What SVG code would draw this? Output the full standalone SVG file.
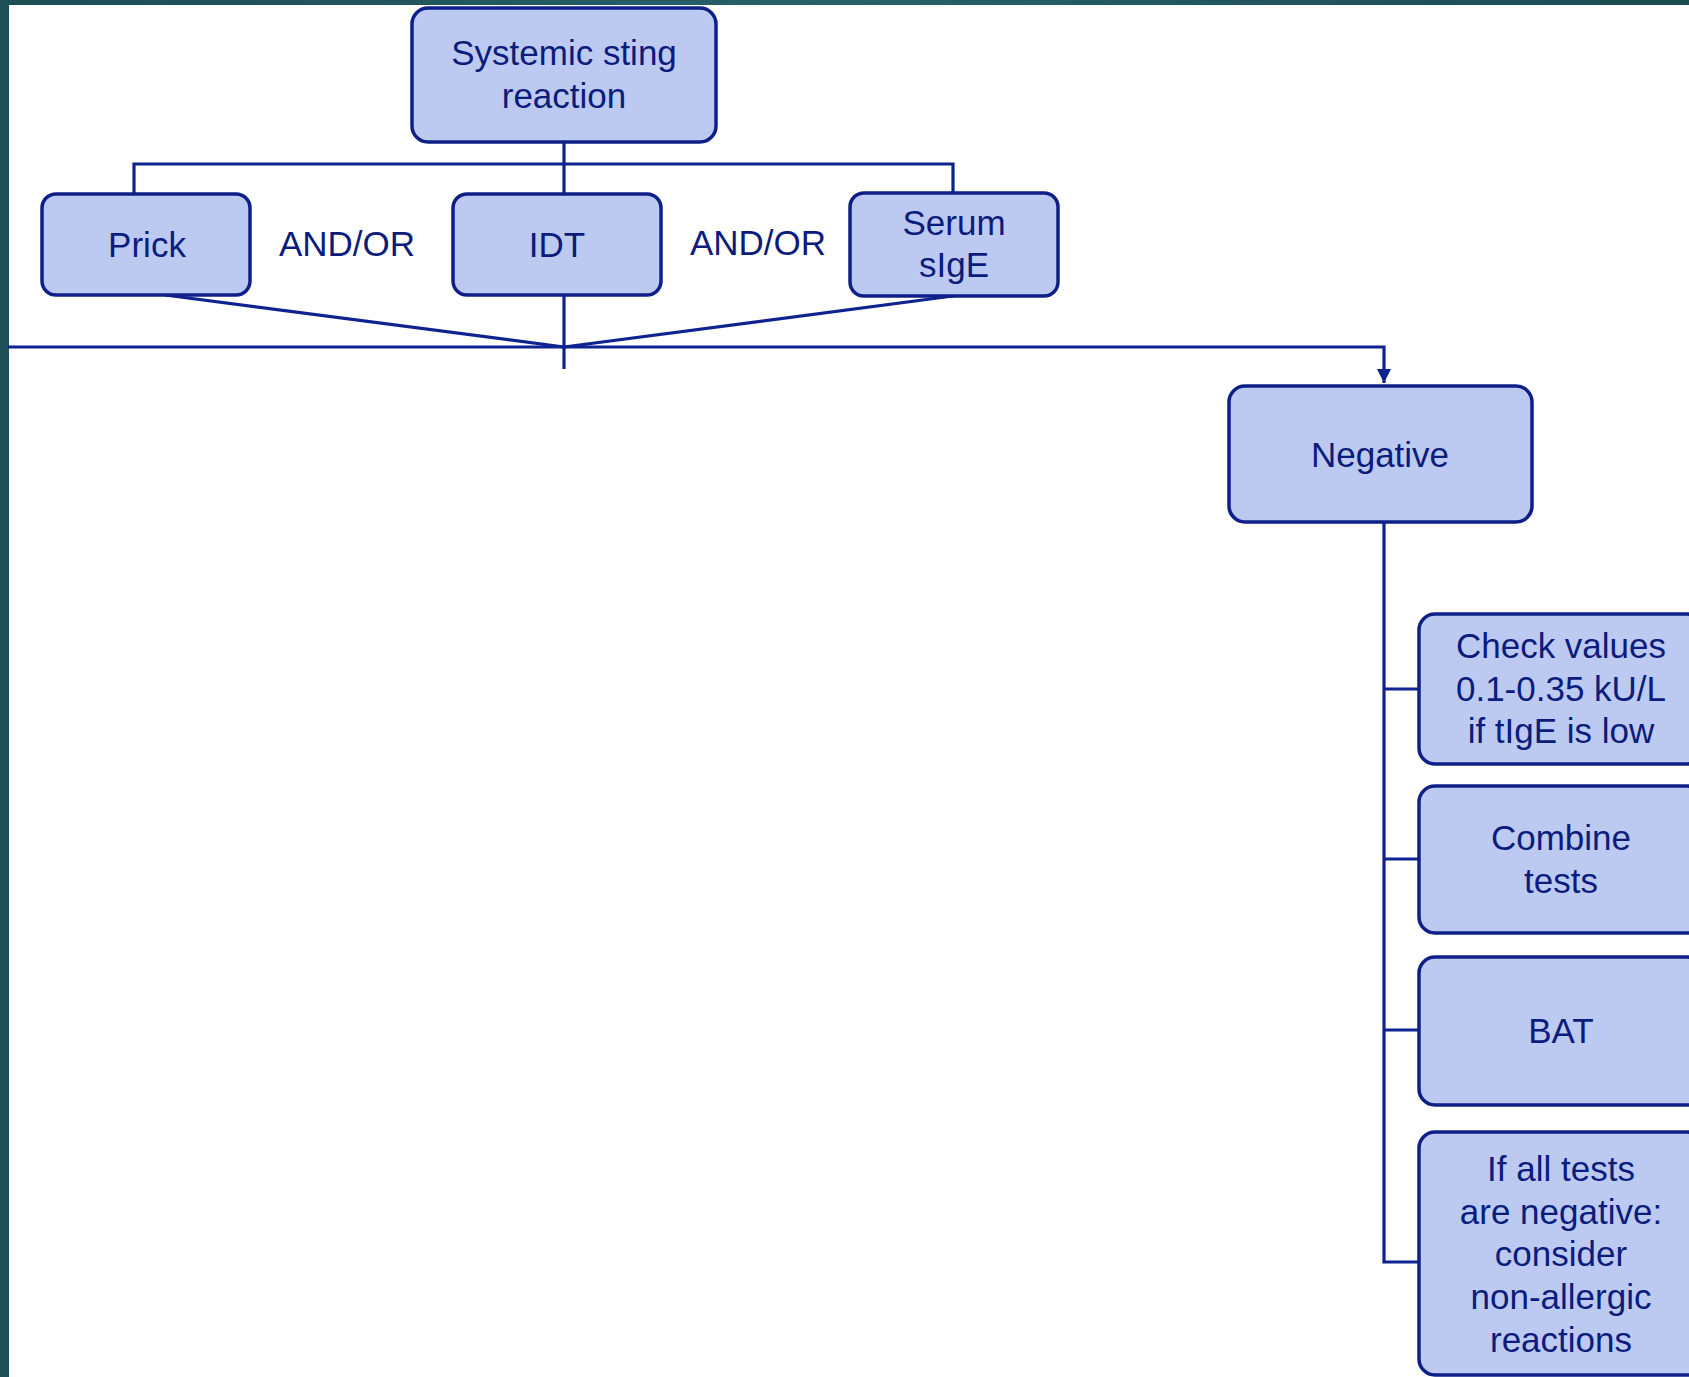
<svg xmlns="http://www.w3.org/2000/svg" width="1689" height="1377" viewBox="0 0 1689 1377">
  <defs>
    <style>
      .box { fill: #BCCAF1; stroke: #0E2088; stroke-width: 3.5; }
      .link { fill: none; stroke: #0F2390; stroke-width: 3.2; }
      .lbl { font-family: "Liberation Sans", Arial, sans-serif; font-size: 35px; fill: #0B1C7C; text-anchor: middle; }
    </style>
    <linearGradient id="frame" x1="0" y1="0" x2="1" y2="0">
      <stop offset="0" stop-color="#1D4C53"/>
      <stop offset="0.5" stop-color="#27606A"/>
      <stop offset="1" stop-color="#1C4A51"/>
    </linearGradient>
    <marker id="arrow" viewBox="0 0 10 10" refX="10" refY="5" markerWidth="4.5" markerHeight="4.5" orient="auto" markerUnits="strokeWidth">
      <path d="M0,0 L10,5 L0,10 z" fill="#0F2390"/>
    </marker>
  </defs>

  <!-- page and frame -->
  <rect x="0" y="0" width="1689" height="1377" fill="#FFFFFF"/>
  <rect x="0" y="0" width="1689" height="5" fill="url(#frame)"/>
  <rect x="0" y="0" width="9" height="1377" fill="#1E5057"/>

  <!-- connectors -->
  <g id="connectors">
    <line class="link" x1="564" y1="143" x2="564" y2="193"/>
    <polyline class="link" points="134,193 134,164 953,164 953,192"/>
    <line class="link" x1="564" y1="295" x2="564" y2="369"/>
    <line class="link" x1="165" y1="295" x2="564" y2="347"/>
    <line class="link" x1="953" y1="296" x2="564" y2="347"/>
    <polyline class="link" points="8,347 1384,347 1384,383" marker-end="url(#arrow)"/>
    <polyline class="link" points="1384,522 1384,1262 1419,1262"/>
    <line class="link" x1="1384" y1="689" x2="1419" y2="689"/>
    <line class="link" x1="1384" y1="859" x2="1419" y2="859"/>
    <line class="link" x1="1384" y1="1030" x2="1419" y2="1030"/>
  </g>

  <g id="systemic">
    <rect class="box" x="412" y="8" width="304" height="134" rx="16"/>
    <text class="lbl" x="564" y="65">Systemic sting</text>
    <text class="lbl" x="564" y="108">reaction</text>
  </g>

  <g id="prick">
    <rect class="box" x="42" y="194" width="208" height="101" rx="14"/>
    <text class="lbl" x="147" y="257">Prick</text>
  </g>

  <text id="andor1" class="lbl" x="347" y="256">AND/OR</text>

  <g id="idt">
    <rect class="box" x="453" y="194" width="208" height="101" rx="14"/>
    <text class="lbl" x="557" y="257">IDT</text>
  </g>

  <text id="andor2" class="lbl" x="758" y="255">AND/OR</text>

  <g id="serum">
    <rect class="box" x="850" y="193" width="208" height="103" rx="14"/>
    <text class="lbl" x="954" y="235">Serum</text>
    <text class="lbl" x="954" y="277">sIgE</text>
  </g>

  <g id="negative">
    <rect class="box" x="1229" y="386" width="303" height="136" rx="16"/>
    <text class="lbl" x="1380" y="467">Negative</text>
  </g>

  <g id="check">
    <rect class="box" x="1419" y="614" width="284" height="150" rx="16"/>
    <text class="lbl" x="1561" y="658">Check values</text>
    <text class="lbl" x="1561" y="701">0.1-0.35 kU/L</text>
    <text class="lbl" x="1561" y="743">if tIgE is low</text>
  </g>

  <g id="combine">
    <rect class="box" x="1419" y="786" width="284" height="147" rx="16"/>
    <text class="lbl" x="1561" y="850">Combine</text>
    <text class="lbl" x="1561" y="893">tests</text>
  </g>

  <g id="bat">
    <rect class="box" x="1419" y="957" width="284" height="148" rx="16"/>
    <text class="lbl" x="1561" y="1043">BAT</text>
  </g>

  <g id="consider">
    <rect class="box" x="1419" y="1132" width="284" height="243" rx="16"/>
    <text class="lbl" x="1561" y="1181">If all tests</text>
    <text class="lbl" x="1561" y="1224">are negative:</text>
    <text class="lbl" x="1561" y="1266">consider</text>
    <text class="lbl" x="1561" y="1309">non-allergic</text>
    <text class="lbl" x="1561" y="1352">reactions</text>
  </g>
</svg>
